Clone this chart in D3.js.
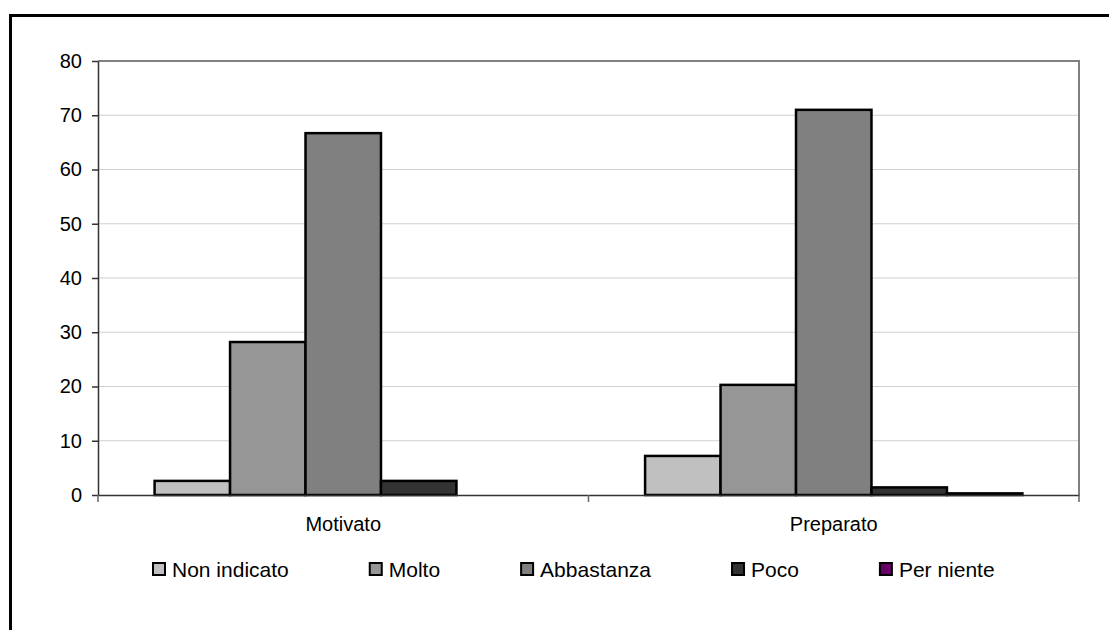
<!DOCTYPE html>
<html>
<head>
<meta charset="utf-8">
<script src="https://cdn.jsdelivr.net/npm/d3@7"></script>
<style>
  html, body { margin: 0; padding: 0; background: #fff; }
  svg { display: block; font-family: "Liberation Sans", Arial, sans-serif; }
</style>
</head>
<body>
<svg id="chart" width="1109" height="630"></svg>
<script>
// Response categories and their percentages per question
const categories = ["Motivato", "Preparato"];
const series = ["Non indicato", "Molto", "Abbastanza", "Poco", "Per niente"];
const colors = ["#c0c0c0", "#969696", "#808080", "#333333", "#660066"];
const valuesMotivato = [2.6, 28.2, 66.7, 2.6, 0];
const valuesPreparato = [7.2, 20.3, 71.0, 1.4, 0.3];
const yTicks = [0, 10, 20, 30, 40, 50, 60, 70, 80];

const values = [valuesMotivato, valuesPreparato];
const FONT = "Liberation Sans, Arial, sans-serif";

const svg = d3.select("#chart");

// outer chart frame (runs past the right and bottom edge)
svg.append("rect")
  .attr("x", 10.5).attr("y", 15.5)
  .attr("width", 1200).attr("height", 700)
  .attr("fill", "none").attr("stroke", "#000").attr("stroke-width", 3);

const plot = { left: 98, top: 61, right: 1079, bottom: 495 };

const x0 = d3.scaleBand().domain(categories).range([plot.left, plot.right]).padding(0);
const groupWidth = x0.bandwidth() * 5 / 6.5;
const x1 = d3.scaleBand().domain(series).range([0, groupWidth]).padding(0);
const y = d3.scaleLinear().domain([0, 80]).range([plot.bottom, plot.top]);

// gridlines
svg.append("g")
  .selectAll("line")
  .data(yTicks.filter(d => d > 0))
  .join("line")
  .attr("x1", plot.left).attr("x2", plot.right)
  .attr("y1", d => y(d)).attr("y2", d => y(d))
  .attr("stroke", "#cfcfcf").attr("stroke-width", 1);

// plot area border (top and right)
svg.append("path")
  .attr("d", `M${plot.left},${plot.top}H${plot.right}V${plot.bottom}`)
  .attr("fill", "none").attr("stroke", "#808080").attr("stroke-width", 2);

// bars
const groups = svg.append("g")
  .selectAll("g")
  .data(categories)
  .join("g")
  .attr("transform", d => `translate(${x0(d) + (x0.bandwidth() - groupWidth) / 2},0)`);

groups.selectAll("rect")
  .data((d, i) => values[i].map((v, j) => ({ key: series[j], v, c: colors[j] })))
  .join("rect")
  .attr("x", d => x1(d.key))
  .attr("width", x1.bandwidth())
  .attr("y", d => y(d.v))
  .attr("height", d => y(0) - y(d.v))
  .attr("fill", d => d.c)
  .attr("stroke", "#000")
  .attr("stroke-width", 2.5);

// y axis
const yAxis = svg.append("g")
  .attr("transform", `translate(${plot.left},0)`)
  .call(d3.axisLeft(y).tickValues(yTicks).tickSize(6).tickPadding(10).tickSizeOuter(0));
yAxis.select(".domain").attr("stroke", "#333").attr("stroke-width", 1.5);
yAxis.selectAll(".tick line").attr("stroke", "#333").attr("stroke-width", 1.5);
yAxis.selectAll("text").attr("font-size", 20).attr("fill", "#000").attr("font-family", FONT);

// x axis
const xAxis = svg.append("g")
  .attr("transform", `translate(0,${plot.bottom})`)
  .call(d3.axisBottom(x0).tickSize(0).tickPadding(22));
xAxis.select(".domain").attr("stroke", "#333").attr("stroke-width", 1.5);
xAxis.selectAll("text").attr("font-size", 20).attr("fill", "#000").attr("font-family", FONT);

// category separators below the axis
const bounds = [plot.left].concat(categories.map(c => x0(c) + x0.bandwidth()));
xAxis.selectAll(".sep")
  .data(bounds)
  .join("line")
  .attr("class", "sep")
  .attr("x1", d => d).attr("x2", d => d)
  .attr("y1", 0).attr("y2", 7)
  .attr("stroke", "#666").attr("stroke-width", 1.5);

// legend
const legend = svg.append("g").attr("transform", "translate(152,570)");
let lx = 0;
series.forEach((s, i) => {
  const item = legend.append("g").attr("transform", `translate(${lx},0)`);
  item.append("rect")
    .attr("x", 1).attr("y", -7).attr("width", 12).attr("height", 12)
    .attr("fill", colors[i]).attr("stroke", "#000").attr("stroke-width", 2);
  const t = item.append("text")
    .attr("x", 20).attr("y", 7)
    .attr("font-size", 21)
    .attr("font-family", FONT)
    .attr("fill", "#000")
    .text(s);
  lx += 20 + t.node().getComputedTextLength() + 80;
});
</script>
</body>
</html>
